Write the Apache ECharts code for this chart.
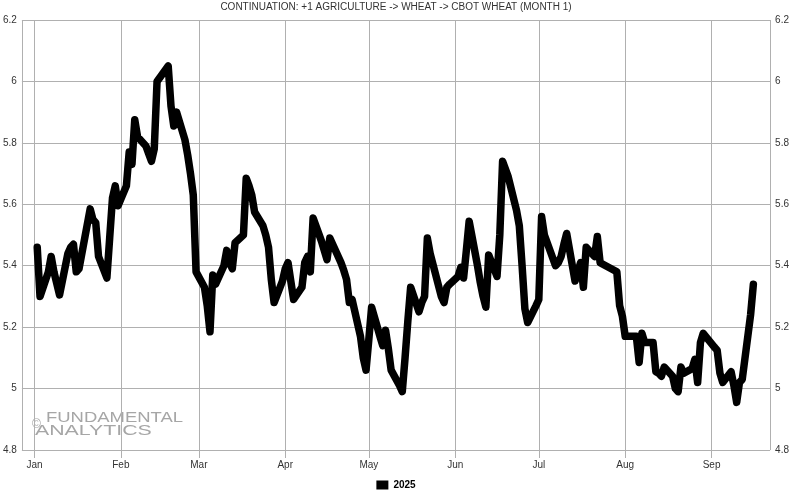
<!DOCTYPE html>
<html>
<head>
<meta charset="utf-8">
<script src="https://cdn.jsdelivr.net/npm/echarts@6/dist/echarts.min.js"></script>
<style>
  html, body { margin: 0; padding: 0; background: #fff; }
  #chart { width: 792px; height: 495px; }
</style>
</head>
<body>
<div id="chart"></div>
<script>
// ---- data (2025, CBOT wheat front month, $/bu) ----
const year = 2025;
const seriesName = '2025';
const titleText = 'CONTINUATION: +1 AGRICULTURE -> WHEAT -> CBOT WHEAT (MONTH 1)';
const monthLabels = ['Jan','Feb','Mar','Apr','May','Jun','Jul','Aug','Sep','Oct','Nov','Dec'];
const yTicks = [4.8, 5.0, 5.2, 5.4, 5.6, 5.8, 6.0, 6.2];

const dates = [
  '01-02','01-03','01-06','01-07','01-08','01-10','01-13','01-14','01-15','01-16','01-17',
  '01-21','01-22','01-23','01-24','01-27','01-28','01-29','01-30','01-31',
  '02-03','02-04','02-05','02-06','02-07','02-10','02-11','02-12','02-13','02-14',
  '02-18','02-19','02-20','02-21','02-24','02-25','02-26','02-27','02-28',
  '03-03','03-04','03-05','03-06','03-07','03-10','03-11','03-12','03-13','03-14',
  '03-17','03-18','03-19','03-20','03-21','03-24','03-25','03-26','03-27','03-28','03-31',
  '04-01','04-02','04-03','04-04','04-07','04-08','04-09','04-10','04-11',
  '04-14','04-15','04-16','04-17','04-21','04-22','04-23','04-24','04-25','04-28','04-29','04-30',
  '05-01','05-02','05-05','05-06','05-07','05-08','05-09','05-12','05-13','05-14','05-15','05-16',
  '05-19','05-20','05-21','05-22','05-23','05-27','05-28','05-29','05-30',
  '06-02','06-03','06-04','06-05','06-06','06-09','06-10','06-11','06-12','06-13',
  '06-16','06-17','06-18','06-20','06-23','06-24','06-25','06-26','06-27','06-30',
  '07-01','07-02','07-03','07-07','07-08','07-09','07-10','07-11','07-14','07-15','07-16','07-17','07-18',
  '07-21','07-22','07-23','07-24','07-25','07-28','07-29','07-30','07-31',
  '08-01','08-04','08-05','08-06','08-07','08-08','08-11','08-12','08-13','08-14','08-15',
  '08-18','08-19','08-20','08-21','08-22','08-25','08-26','08-27','08-28','08-29',
  '09-02','09-03','09-04','09-05','09-08','09-09','09-10','09-11','09-12','09-15','09-16'
];

const prices = [
  5.46,5.30,5.38,5.43,5.38,5.305,5.44,5.46,5.47,5.38,5.39,
  5.585,5.55,5.54,5.43,5.36,5.49,5.62,5.66,5.595,
  5.66,5.77,5.73,5.875,5.82,5.79,5.765,5.74,5.78,6.00,
  6.05,5.92,5.855,5.90,5.81,5.76,5.70,5.63,5.38,
  5.33,5.27,5.185,5.37,5.34,5.40,5.45,5.41,5.39,5.475,
  5.50,5.685,5.66,5.63,5.575,5.53,5.50,5.46,5.355,5.28,5.35,
  5.39,5.41,5.35,5.29,5.33,5.41,5.43,5.38,5.555,
  5.48,5.45,5.42,5.49,5.41,5.385,5.355,5.28,5.29,5.17,5.10,5.06,
  5.16,5.265,5.17,5.14,5.19,5.13,5.06,5.01,4.99,5.10,5.22,5.33,
  5.25,5.28,5.30,5.49,5.44,5.30,5.28,5.33,5.34,
  5.365,5.395,5.36,5.45,5.545,5.40,5.345,5.30,5.265,5.435,
  5.365,5.50,5.74,5.69,5.58,5.53,5.40,5.26,5.215,5.27,
  5.29,5.56,5.50,5.40,5.41,5.43,5.47,5.505,5.35,5.38,5.41,5.33,5.46,
  5.43,5.495,5.41,5.405,5.40,5.385,5.38,5.27,5.235,
  5.17,5.17,5.17,5.085,5.18,5.15,5.15,5.055,5.05,5.04,5.07,
  5.04,5.00,4.99,5.07,5.05,5.065,5.095,5.02,5.15,5.18,
  5.135,5.125,5.05,5.02,5.055,5.01,4.955,5.02,5.03,5.24,5.34
];

// ---- build ----
function toTime(md) {
  const [m, d] = md.split('-').map(Number);
  return Date.UTC(year, m - 1, d);
}
const seriesData = dates.map((d, i) => [toTime(d), prices[i]]);
const DAY = 86400000;

const gridColor = '#b0b0b0';
const textColor = '#333';
const font = 'Liberation Sans, Arial, sans-serif';
const wmColor = '#a6a6a6';

const chart = echarts.init(document.getElementById('chart'), null, { renderer: 'canvas' });
chart.setOption({
  useUTC: true,
  animation: false,
  backgroundColor: '#fff',
  title: {
    text: titleText,
    left: 'center',
    top: -3,
    textStyle: { fontSize: 10, fontWeight: 'normal', color: textColor, fontFamily: font }
  },
  legend: {
    data: [seriesName],
    bottom: 0,
    left: 'center',
    icon: 'rect',
    itemWidth: 12,
    itemHeight: 9,
    itemGap: 5,
    textStyle: { fontSize: 10, fontWeight: 'bold', color: '#000', fontFamily: font }
  },
  grid: { left: 20, right: 20, top: 20, bottom: 45, containLabel: false },
  xAxis: {
    type: 'time',
    min: Date.UTC(year - 1, 11, 27, 12),
    max: Date.UTC(year, 8, 22),
    splitNumber: 9,
    minInterval: 28 * DAY,
    maxInterval: 31 * DAY,
    axisLine: { show: false },
    axisTick: { show: true, length: 8, lineStyle: { color: gridColor, width: 1 } },
    splitLine: { show: true, lineStyle: { color: gridColor, width: 1 } },
    axisLabel: {
      fontSize: 10, color: textColor, fontFamily: font, margin: 10,
      showMinLabel: false, showMaxLabel: false,
      formatter: function (v) { return monthLabels[new Date(v).getUTCMonth()]; }
    }
  },
  yAxis: [
    {
      type: 'value', position: 'left',
      min: yTicks[0], max: yTicks[yTicks.length - 1], interval: 0.2,
      axisLine: { show: false }, axisTick: { show: false },
      splitLine: { show: true, lineStyle: { color: gridColor, width: 1 } },
      axisLabel: { fontSize: 10, color: textColor, fontFamily: font, margin: 5 }
    },
    {
      type: 'value', position: 'right',
      min: yTicks[0], max: yTicks[yTicks.length - 1], interval: 0.2,
      axisLine: { show: false }, axisTick: { show: false },
      splitLine: { show: false },
      axisLabel: { fontSize: 10, color: textColor, fontFamily: font, margin: 5 }
    }
  ],
  graphic: [
    { type: 'text', x: 32, y: 419, z: -1, silent: true,
      style: { text: '©', fontSize: 12, fill: wmColor, fontFamily: font } },
    { type: 'text', x: 46, y: 410, z: -1, scaleX: 1.23, silent: true,
      style: { text: 'FUNDAMENTAL', fontSize: 15, fill: wmColor, fontFamily: font } },
    { type: 'text', x: 35, y: 423, z: -1, scaleX: 1.42, silent: true,
      style: { text: 'ANALYTICS', fontSize: 15, fill: wmColor, fontFamily: font } }
  ],
  series: [
    {
      name: seriesName,
      type: 'line',
      data: seriesData,
      showSymbol: false,
      symbol: 'none',
      color: '#000',
      lineStyle: { color: '#000', width: 7.5, join: 'round', cap: 'round' },
      z: 5
    }
  ]
});
</script>
</body>
</html>
